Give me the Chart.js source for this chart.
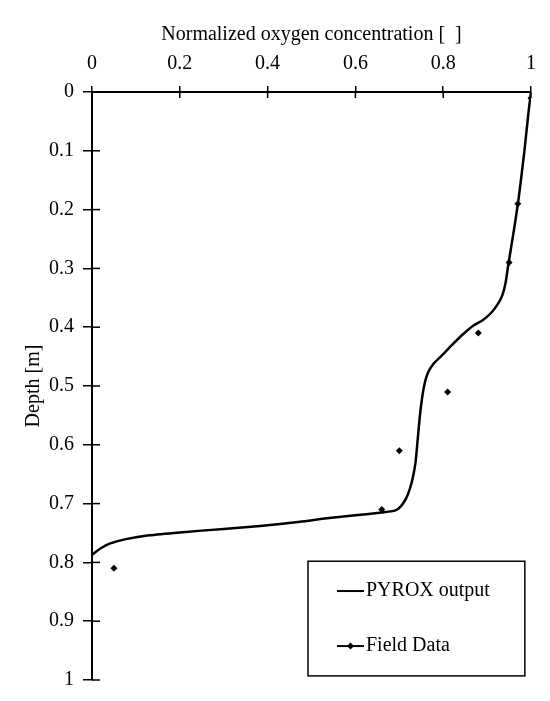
<!DOCTYPE html>
<html>
<head>
<meta charset="utf-8">
<script src="https://cdn.jsdelivr.net/npm/chart.js@4/dist/chart.umd.min.js"></script>
<style>
html,body{margin:0;padding:0;background:#fff;}
#wrap{width:550px;height:701px;position:relative;}
</style>
</head>
<body>
<div id="wrap"><canvas id="c"></canvas></div>
<script>
// Tick labels
const xTickLabels = ['0', '0.2', '0.4', '0.6', '0.8', '1'];
const yTickLabels = ['0', '0.1', '0.2', '0.3', '0.4', '0.5', '0.6', '0.7', '0.8', '0.9', '1'];

// PYROX output (model curve): concentration vs depth
const pyroxConc = [1.0, 0.995, 0.985, 0.972, 0.96, 0.948, 0.942, 0.935, 0.925, 0.91, 0.89, 0.869, 0.845, 0.819, 0.797, 0.777, 0.765, 0.758, 0.752, 0.747, 0.742, 0.737, 0.731, 0.724, 0.715, 0.703, 0.69, 0.66, 0.6, 0.535, 0.474, 0.383, 0.3, 0.2, 0.13, 0.08, 0.04, 0.02, 0.0];
const pyroxDepth = [0.0, 0.03, 0.1, 0.18, 0.24, 0.295, 0.325, 0.345, 0.36, 0.375, 0.388, 0.397, 0.412, 0.431, 0.448, 0.463, 0.478, 0.495, 0.52, 0.55, 0.59, 0.63, 0.655, 0.675, 0.692, 0.705, 0.712, 0.715, 0.72, 0.725, 0.731, 0.738, 0.743, 0.749, 0.754, 0.76, 0.768, 0.776, 0.787];

// Field data
const fieldConc = [1.0, 0.97, 0.95, 0.88, 0.81, 0.70, 0.66, 0.05];
const fieldDepth = [0.01, 0.19, 0.29, 0.41, 0.51, 0.61, 0.71, 0.81];

const seriesNames = ['PYROX output', 'Field Data'];
const xTitle = 'Normalized oxygen concentration [  ]';
const yTitle = 'Depth [m]';

const FONT = "'Liberation Serif', 'Times New Roman', serif";

const pyroxPts = pyroxConc.map((v, i) => ({x: v, y: pyroxDepth[i]}));
const fieldPts = fieldConc.map((v, i) => ({x: v, y: fieldDepth[i]}));

const crossTicks = {
  id: 'crossTicks',
  afterDraw(chart) {
    const ctx = chart.ctx;
    const xs = chart.scales.x, ys = chart.scales.y;
    const ca = chart.chartArea;
    ctx.save();
    ctx.strokeStyle = '#000';
    ctx.lineWidth = 1.5;
    xs.ticks.forEach(t => {
      const px = xs.getPixelForValue(t.value);
      ctx.beginPath(); ctx.moveTo(px, ca.top); ctx.lineTo(px, ca.top + 6); ctx.stroke();
    });
    ys.ticks.forEach(t => {
      const py = ys.getPixelForValue(t.value);
      ctx.beginPath(); ctx.moveTo(ca.left, py); ctx.lineTo(ca.left + 8, py); ctx.stroke();
    });
    ctx.restore();
  }
};

const boxLegend = {
  id: 'boxLegend',
  afterDraw(chart) {
    const ctx = chart.ctx;
    const xs = chart.scales.x, ys = chart.scales.y;
    const l = xs.getPixelForValue(0.492), r = xs.getPixelForValue(0.986);
    const t = ys.getPixelForValue(0.798), b = ys.getPixelForValue(0.993);
    ctx.save();
    ctx.fillStyle = '#fff';
    ctx.fillRect(l, t, r - l, b - t);
    ctx.strokeStyle = '#000';
    ctx.lineWidth = 1.5;
    ctx.strokeRect(l, t, r - l, b - t);
    const h = b - t;
    const rows = [t + h * 0.26, t + h * 0.74];
    const sx0 = l + 29, sx1 = l + 56, tx = l + 58;
    ctx.font = "20px " + FONT;
    ctx.fillStyle = '#000';
    ctx.textBaseline = 'middle';
    ctx.textAlign = 'left';
    ctx.lineWidth = 2;
    ctx.beginPath(); ctx.moveTo(sx0, rows[0]); ctx.lineTo(sx1, rows[0]); ctx.stroke();
    ctx.fillText(seriesNames[0], tx, rows[0]);
    ctx.beginPath(); ctx.moveTo(sx0, rows[1]); ctx.lineTo(sx1, rows[1]); ctx.stroke();
    const mx = (sx0 + sx1) / 2;
    ctx.beginPath();
    ctx.moveTo(mx, rows[1] - 3.5); ctx.lineTo(mx + 3.5, rows[1]); ctx.lineTo(mx, rows[1] + 3.5); ctx.lineTo(mx - 3.5, rows[1]); ctx.closePath();
    ctx.fill();
    ctx.fillText(seriesNames[1], tx, rows[1]);
    ctx.restore();
  }
};

new Chart(document.getElementById('c'), {
  type: 'scatter',
  data: {
    datasets: [
      {
        label: seriesNames[0],
        data: pyroxPts,
        showLine: true,
        borderColor: '#000',
        borderWidth: 2.5,
        pointRadius: 0,
        tension: 0.2,
        fill: false
      },
      {
        label: seriesNames[1],
        data: fieldPts,
        showLine: false,
        pointStyle: 'rectRot',
        pointRadius: 3.5,
        backgroundColor: '#000',
        borderColor: '#000',
        borderWidth: 0
      }
    ]
  },
  options: {
    responsive: true,
    maintainAspectRatio: false,
    animation: false,
    layout: {padding: {left: 0, top: 0, right: 19, bottom: 19}},
    plugins: {legend: {display: false}, tooltip: {enabled: false}},
    scales: {
      x: {
        type: 'linear',
        position: 'top',
        min: 0, max: 1,
        afterFit(s) { s.height = 92; },
        border: {display: true, color: '#000', width: 2},
        grid: {drawOnChartArea: false, drawTicks: true, tickLength: 6, color: '#000', lineWidth: 1.5},
        ticks: {
          stepSize: 0.2,
          padding: 10,
          color: '#000',
          font: {family: FONT, size: 20},
          maxRotation: 0,
          callback: (v) => xTickLabels[Math.round(v * 5)]
        },
        title: {display: true, text: xTitle, color: '#000', font: {family: FONT, size: 20}, padding: {top: 23, bottom: 0}}
      },
      y: {
        type: 'linear',
        reverse: true,
        min: 0, max: 1,
        afterFit(s) { s.width = 92; },
        border: {display: true, color: '#000', width: 2},
        grid: {drawOnChartArea: false, drawTicks: true, tickLength: 9, color: '#000', lineWidth: 1.5},
        ticks: {
          stepSize: 0.1,
          padding: 9,
          color: '#000',
          font: {family: FONT, size: 20},
          callback: (v) => yTickLabels[Math.round(v * 10)]
        },
        title: {display: true, text: yTitle, color: '#000', font: {family: FONT, size: 20}, padding: {top: 22, bottom: 0}}
      }
    }
  },
  plugins: [crossTicks, boxLegend]
});
</script>
</body>
</html>
